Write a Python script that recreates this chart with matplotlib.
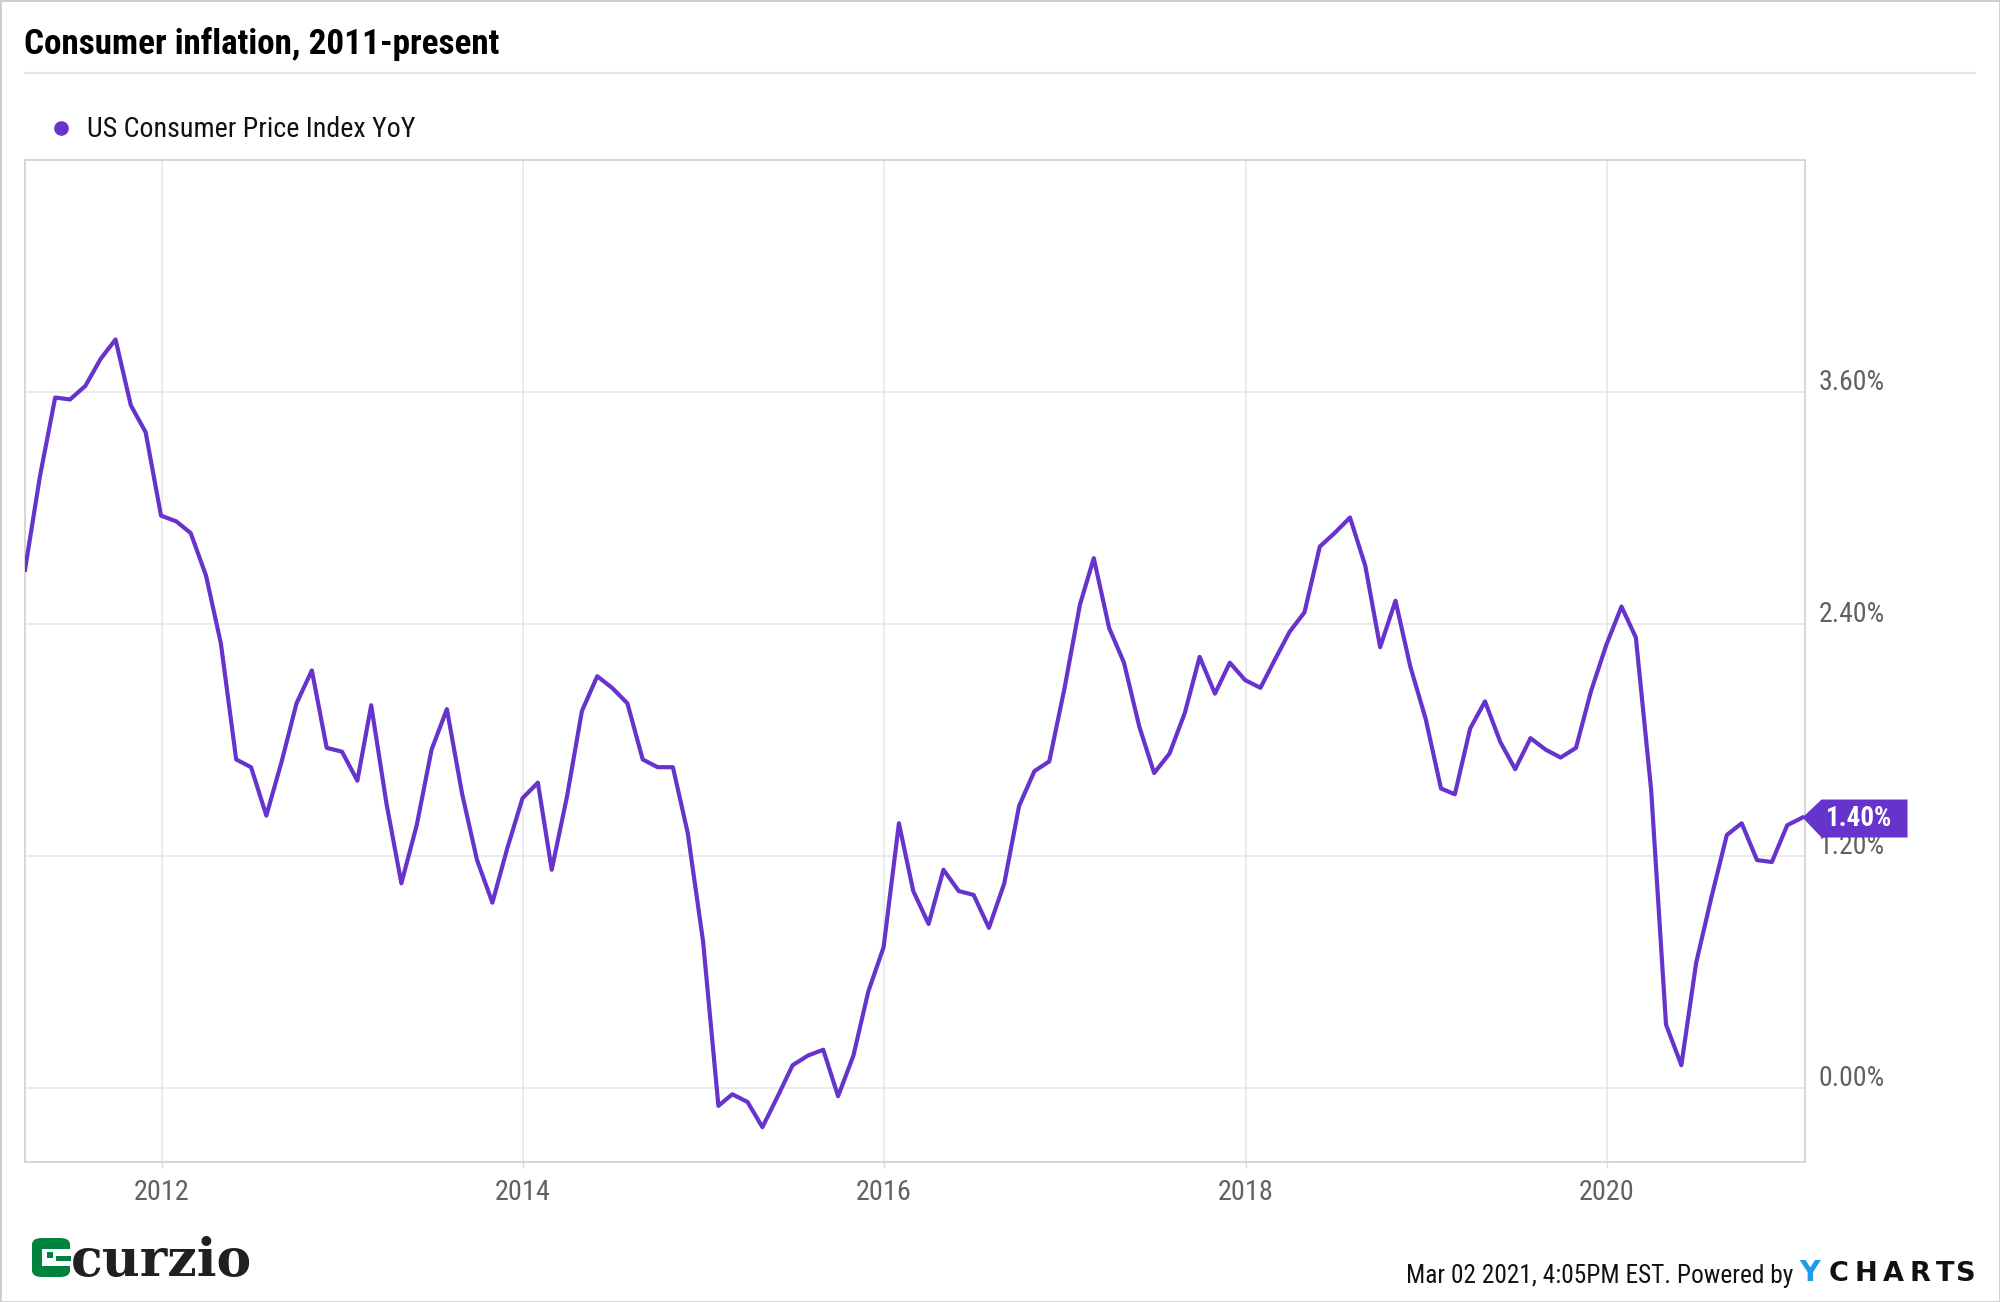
import pandas as pd
import matplotlib
matplotlib.use("Agg")
import matplotlib.pyplot as plt
from matplotlib import font_manager as fm
from matplotlib import transforms
from matplotlib.patches import Polygon, Rectangle, FancyBboxPatch
from matplotlib.lines import Line2D

# pick a condensed font if one is around
names = {f.name for f in fm.fontManager.ttflist}
COND = next((n for n in ["Roboto Condensed", "Liberation Sans Narrow", "Roboto"] if n in names), "DejaVu Sans")

PURPLE = "#6633cc"
GRID = "#e6e6e6"
LABEL = "#616161"

# US CPI YoY (%), month-end values, Mar 2011 - Jan 2021
cpi_2011 = [2.68, 3.16, 3.57, 3.56, 3.63, 3.77, 3.87, 3.53, 3.39, 2.96]
cpi_2012 = [2.93, 2.87, 2.65, 2.30, 1.70, 1.66, 1.41, 1.69, 1.99, 2.16, 1.76, 1.74]
cpi_2013 = [1.59, 1.98, 1.47, 1.06, 1.36, 1.75, 1.96, 1.52, 1.18, 0.96, 1.24, 1.50]
cpi_2014 = [1.58, 1.13, 1.51, 1.95, 2.13, 2.07, 1.99, 1.70, 1.66, 1.66, 1.32, 0.76]
cpi_2015 = [-0.09, -0.03, -0.07, -0.20, -0.04, 0.12, 0.17, 0.20, -0.04, 0.17, 0.50, 0.73]
cpi_2016 = [1.37, 1.02, 0.85, 1.13, 1.02, 1.00, 0.83, 1.06, 1.46, 1.64, 1.69, 2.07]
cpi_2017 = [2.50, 2.74, 2.38, 2.20, 1.87, 1.63, 1.73, 1.94, 2.23, 2.04, 2.20, 2.11]
cpi_2018 = [2.07, 2.21, 2.36, 2.46, 2.80, 2.87, 2.95, 2.70, 2.28, 2.52, 2.18, 1.91]
cpi_2019 = [1.55, 1.52, 1.86, 2.00, 1.79, 1.65, 1.81, 1.75, 1.71, 1.76, 2.05, 2.29]
cpi_2020 = [2.49, 2.33, 1.54, 0.33, 0.12, 0.65, 0.99, 1.31, 1.37, 1.18, 1.17, 1.36]
cpi_2021 = [1.40]

values = (cpi_2011 + cpi_2012 + cpi_2013 + cpi_2014 + cpi_2015 + cpi_2016
          + cpi_2017 + cpi_2018 + cpi_2019 + cpi_2020 + cpi_2021)
dates = pd.date_range("2011-04-01", periods=len(values), freq="MS") - pd.Timedelta(days=1)

y_ticks = [0.0, 1.2, 2.4, 3.6]
y_labels = ["0.00%", "1.20%", "2.40%", "3.60%"]
x_labels = ["2012", "2014", "2016", "2018", "2020"]
x_ticks = pd.to_datetime([s + "-01-01" for s in x_labels])

title = "Consumer inflation, 2011-present"
series_name = "US Consumer Price Index YoY"
footer = "Mar 02 2021, 4:05PM EST. Powered by"

W, H = 2000, 1302
fig = plt.figure(figsize=(W / 100, H / 100), dpi=100)


def fx(px):
    return px / W


def fy(py):
    return 1 - py / H


# plot area
ax = fig.add_axes([fx(25), fy(1162), fx(1805) - fx(25), fy(159.5) - fy(1162)])
ax.plot(dates, values, color=PURPLE, lw=3.0, zorder=3)
ax.set_xlim(pd.Timestamp("2011-03-31"), pd.Timestamp("2021-02-05"))
ax.set_ylim(-0.38, 4.80)

ax.set_yticks(y_ticks)
ax.set_xticks(x_ticks)
ax.set_xticklabels(x_labels, family=COND)
ax.grid(color=GRID, lw=1.1)
ax.set_axisbelow(True)
ax.tick_params(axis="y", length=0, labelleft=False)
ax.tick_params(axis="x", length=4, width=1, color="#dddddd", pad=8, labelsize=20.3, labelcolor=LABEL)
for s in ax.spines.values():
    s.set_color("#cccccc")
    s.set_linewidth(1.1)

# y labels on the right, sitting just above each gridline
ytrans = transforms.blended_transform_factory(ax.transAxes, ax.transData) + \
    transforms.ScaledTranslation(0.14, 0.02, fig.dpi_scale_trans)
for v, lab in zip(y_ticks, y_labels):
    ax.text(1.0, v, lab, transform=ytrans, ha="left", va="baseline",
            fontsize=20, family=COND, color=LABEL, clip_on=False)

# last value badge
fig.canvas.draw()
tip = ax.transData.transform((matplotlib.dates.date2num(dates[-1]), values[-1]))
tx, ty = tip[0], H - tip[1]
badge = [(0, 0), (19, -18), (105, -18), (105, 20), (19, 20)]
fig.add_artist(Polygon([(fx(tx + dx), fy(ty + dy)) for dx, dy in badge], closed=True,
                       transform=fig.transFigure, fc=PURPLE, ec="none", zorder=10))
fig.text(fx(tx + 57), fy(ty + 1), "%.2f%%" % values[-1], ha="center", va="center",
         fontsize=19.5, weight="bold", family=COND, color="white", zorder=11)

# title + separator
fig.text(fx(24), fy(54), title, ha="left", va="baseline", fontsize=25.3,
         weight="bold", family=COND, color="#000000")
fig.add_artist(Line2D([fx(25), fx(1975)], [fy(72.5)] * 2, color="#e3e3e3", lw=1.5))

# legend
fig.add_artist(Line2D([fx(61)], [fy(128)], marker="o", ms=9.5, color=PURPLE, ls="none"))
fig.text(fx(87), fy(137), series_name, ha="left", va="baseline", fontsize=20.2,
         family=COND, color="#111111")

# footer text + ycharts mark
fig.text(fx(1793), fy(1283), footer, ha="right", va="baseline", fontsize=18.3,
         family=COND, color="#111111")
fig.text(fx(1810), fy(1281), "Y", ha="center", va="baseline", fontsize=20.5,
         weight="bold", family="DejaVu Sans", color="#1e9be9")
for ch, cx in zip("CHARTS", [1839, 1866, 1893, 1920, 1945, 1966]):
    fig.text(fx(cx), fy(1281), ch, ha="center", va="baseline", fontsize=19.5,
             weight="bold", family="DejaVu Sans", color="#111111")

# curzio logo (rough)
green = "#00843d"
fig.add_artist(FancyBboxPatch((fx(32), fy(1277)), fx(38), 39 / H,
                              boxstyle="round,pad=0,rounding_size=0.005",
                              transform=fig.transFigure, fc=green, ec="none"))
fig.add_artist(Rectangle((fx(42), fy(1266)), fx(29), 17 / H, transform=fig.transFigure,
                         fc="white", ec="none"))
fig.add_artist(Rectangle((fx(47), fy(1258)), fx(6), 6 / H, transform=fig.transFigure,
                         fc=green, ec="none"))
fig.add_artist(Rectangle((fx(56), fy(1261)), fx(15), 5 / H, transform=fig.transFigure,
                         fc=green, ec="none"))
fig.text(fx(71), fy(1276), "curzio", ha="left", va="baseline", fontsize=37.5,
         weight="bold", family="DejaVu Serif", color="#231f20")

# outer frame
fig.add_artist(Rectangle((0, 0), 1, 1, transform=fig.transFigure, fill=False,
                         ec="#cccccc", lw=2))

fig.savefig("out.png", dpi=100)
